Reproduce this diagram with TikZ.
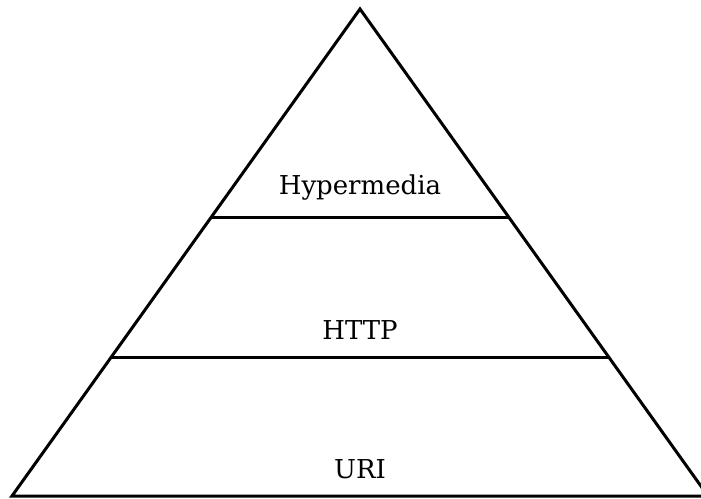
\documentclass[tikz,border=0pt]{standalone}
\usepackage{fontspec}
\setmainfont{DejaVu Serif}
\begin{document}
\begin{tikzpicture}[x=1pt,y=-1pt,
  edge/.style={line width=3pt,line join=miter},
  layer/.style={anchor=base,inner sep=0pt,font=\fontsize{26}{31}\selectfont}]
\useasboundingbox (0,0) rectangle (701,498);
% pyramid outline
\coordinate (apex) at (360,9);
\coordinate (bl) at (12,496);
\coordinate (br) at (708,496);
\coordinate (ml1) at (211.4,217);
\coordinate (mr1) at (508.6,217);
\coordinate (ml2) at (111.3,357);
\coordinate (mr2) at (608.7,357);
\draw[edge] (bl) -- (apex) -- (br) -- cycle;
\draw[edge] (ml1) -- (mr1);
\draw[edge] (ml2) -- (mr2);
% layer labels
\node[layer] (hyper) at (360,194) {Hypermedia};
\node[layer] (http) at (360,339) {HTTP};
\node[layer] (uri) at (360,478) {URI};
\end{tikzpicture}
\end{document}
